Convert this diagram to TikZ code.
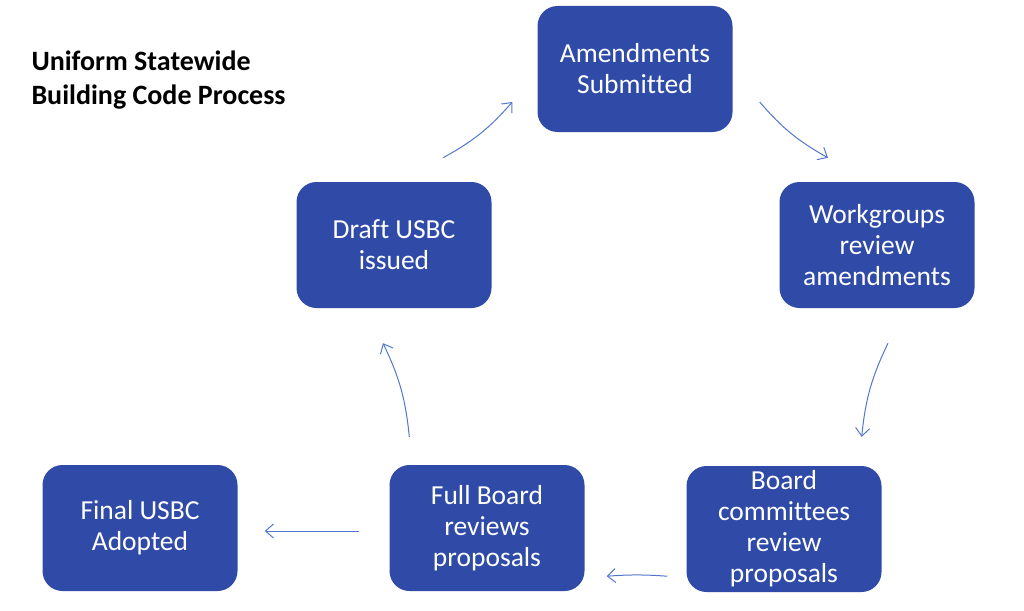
\documentclass[tikz,border=0pt]{standalone}
\usepackage{fontspec}
\setmainfont{Carlito}[Ligatures=NoCommon]
\usetikzlibrary{arrows.meta,positioning}
\definecolor{boxblue}{RGB}{47,75,167}
\definecolor{flowblue}{RGB}{80,120,205}
\begin{document}
\begin{tikzpicture}[
  x=1pt, y=-1pt,
  block/.style={rectangle, rounded corners=20pt, fill=boxblue, text=white, minimum width=195pt, minimum height=126pt, align=center, font=\fontsize{27.5}{31}\selectfont},
  flow/.style={draw=flowblue, line width=1pt, -{Straight Barb[length=8pt,width=14pt]}},
  node distance=2cm
]
\useasboundingbox (0,0) rectangle (1024,610);
\node[anchor=west, align=left, font=\fontsize{28}{34}\selectfont\bfseries] (title) at (28,80) {Uniform Statewide\\Building Code Process};
\node[block] (amend) at (635,69) {Amendments\\Submitted};
\node[block] (work) at (877,245) {Workgroups\\review\\amendments};
\node[block] (board) at (784,529) {Board\\committees\\review\\proposals};
\node[block] (full) at (487,528) {Full Board\\reviews\\proposals};
\node[block] (draft) at (394,245) {Draft USBC\\issued};
\node[block, left of=full, node distance=347pt] (final) {Final USBC\\Adopted};

\draw[flow] ([xshift=49pt,yshift=24pt]draft.north) to[bend right=10] ([xshift=-25pt,yshift=-33pt]amend.west);
\draw[flow] ([xshift=27pt,yshift=-33pt]amend.east) to[bend right=10] ([xshift=-49pt,yshift=24pt]work.north);
\draw[flow] ([xshift=11pt,yshift=-35pt]work.south) to[bend right=10] ([xshift=-20pt,yshift=29pt]board.north east);
\draw[flow] ([xshift=-19pt,yshift=16pt]board.south west) to[bend right=4] ([xshift=22pt,yshift=15pt]full.south east);
\draw[flow] ([xshift=20pt,yshift=28pt]full.north west) to[bend right=10] ([xshift=-11pt,yshift=-35pt]draft.south);
\draw[flow] ([xshift=-30pt,yshift=-3pt]full.west) -- ([xshift=27pt,yshift=-3pt]final.east);
\end{tikzpicture}
\end{document}
